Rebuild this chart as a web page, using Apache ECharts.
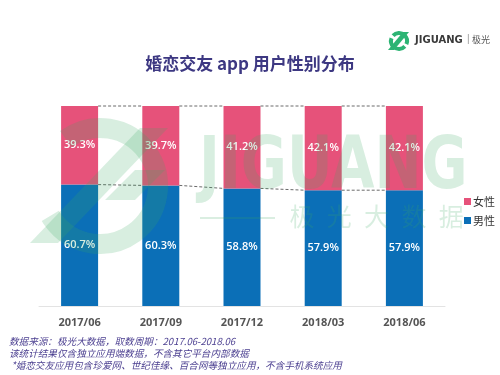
<!DOCTYPE html>
<html>
<head>
<meta charset="utf-8">
<script src="https://cdn.jsdelivr.net/npm/echarts@6/dist/echarts.min.js"></script>
<style>
  html, body { margin: 0; padding: 0; background: #fff; }
  #chart { width: 500px; height: 375px; }
</style>
</head>
<body>
<div id="chart"></div>
<script>
// data
const periods = ["2017/06", "2017/09", "2017/12", "2018/03", "2018/06"];
const female = [39.3, 39.7, 41.2, 42.1, 42.1];
const male = [60.7, 60.3, 58.8, 57.9, 57.9];
const notes = [
  "数据来源：极光大数据，取数周期：2017.06-2018.06",
  "该统计结果仅含独立应用端数据，不含其它平台内部数据",
  " *婚恋交友应用包含珍爱网、世纪佳缘、百合网等独立应用，不含手机系统应用",
];
const wmChars = ["极", "光", "大", "数", "据"];

const PINK = "#e6527a";
const BLUE = "#0b6fb7";
const BAR_W = 37;
const CJK = "'Noto Sans CJK SC', 'Open Sans', sans-serif";

/** connector segments between neighbouring bars: top edge and split line */
const links = [];
for (let i = 0; i < periods.length - 1; i++) {
  links.push([i, 100, 100]);
  links.push([i, male[i], male[i + 1]]);
}

const chart = echarts.init(document.getElementById("chart"), null, { renderer: "canvas" });

const wmGreen = "#3aa865";
const WM_Z = 100;

const option = {
  animation: false,
  backgroundColor: "#fff",
  title: {
    text: "婚恋交友 app 用户性别分布",
    left: "center",
    top: 50,
    textStyle: { fontFamily: CJK, fontSize: 17, fontWeight: "bold", color: "#3d3882" },
  },
  legend: {
    orient: "vertical",
    left: 459,
    top: 191,
    itemWidth: 7,
    itemHeight: 7,
    itemGap: 8,
    icon: "rect",
    data: ["女性", "男性"],
    textStyle: { fontFamily: CJK, fontSize: 11, color: "#333", padding: [0, 0, 0, -3] },
  },
  grid: { left: 39, right: 55, top: 106, bottom: 69 },
  xAxis: {
    type: "category",
    data: periods,
    axisLine: { lineStyle: { color: "#e3e3e3" } },
    axisTick: { show: false },
    axisLabel: {
      margin: 11,
      fontFamily: "'Open Sans', sans-serif",
      fontWeight: "bold",
      fontSize: 11,
      color: "#555",
    },
  },
  yAxis: { type: "value", min: 0, max: 100, show: false },
  series: [
    {
      name: "男性",
      type: "bar",
      stack: "g",
      barWidth: BAR_W,
      data: male,
      itemStyle: { color: BLUE },
      label: {
        show: true,
        position: "inside",
        color: "#fff",
        fontFamily: "'Open Sans', sans-serif",
        fontSize: 11,
        fontWeight: 600,
        formatter: (p) => p.value.toFixed(1) + "%",
      },
    },
    {
      name: "女性",
      type: "bar",
      stack: "g",
      barWidth: BAR_W,
      data: female,
      itemStyle: { color: PINK },
      label: {
        show: true,
        position: "inside",
        color: "#fff",
        fontFamily: "'Open Sans', sans-serif",
        fontSize: 11,
        fontWeight: 600,
        formatter: (p) => p.value.toFixed(1) + "%",
      },
    },
    {
      type: "custom",
      silent: true,
      z: 3,
      data: links,
      renderItem: (params, api) => {
        const i = api.value(0);
        const a = api.coord([i, api.value(1)]);
        const b = api.coord([i + 1, api.value(2)]);
        return {
          type: "line",
          shape: { x1: a[0] + BAR_W / 2, y1: a[1], x2: b[0] - BAR_W / 2, y2: b[1] },
          style: { stroke: "#6a6a6a", lineWidth: 1, lineDash: [3, 2] },
        };
      },
    },
  ],
  graphic: [
    /** watermark, drawn over the bars */
    {
      type: "arc",
      z: WM_Z,
      silent: true,
      shape: { cx: 100, cy: 186, r: 58, startAngle: -2.2, endAngle: 2.6 },
      style: { stroke: wmGreen, lineWidth: 20, fill: null, opacity: 0.2 },
    },
    {
      type: "polygon",
      z: WM_Z,
      silent: true,
      shape: { points: [[30, 243], [58, 243], [168, 128], [140, 128]] },
      style: { fill: wmGreen, opacity: 0.2 },
    },
    {
      type: "polygon",
      z: WM_Z,
      silent: true,
      shape: { points: [[105, 200], [135, 200], [165, 170], [135, 170]] },
      style: { fill: wmGreen, opacity: 0.2 },
    },
    {
      type: "text",
      z: WM_Z,
      silent: true,
      x: 199,
      y: 133,
      scaleX: 0.77,
      style: {
        text: "JIGUANG",
        fill: wmGreen,
        opacity: 0.2,
        font: "bold 73px 'DejaVu Sans', sans-serif",
      },
    },
    {
      type: "line",
      z: WM_Z,
      silent: true,
      shape: { x1: 200, y1: 218, x2: 275, y2: 218 },
      style: { stroke: wmGreen, lineWidth: 1.5, opacity: 0.25 },
    },
    ...wmChars.map((c, k) => ({
      type: "text",
      z: WM_Z,
      silent: true,
      x: 302 + k * 37.3,
      y: 216,
      style: {
        text: c,
        fill: wmGreen,
        opacity: 0.2,
        align: "center",
        verticalAlign: "middle",
        font: "25px 'Noto Sans CJK SC', sans-serif",
      },
    })),
    /** brand logo, top right */
    {
      type: "polygon",
      shape: { points: [[388, 50], [394, 50], [409, 32], [403, 32]] },
      style: { fill: "#2db474" },
    },
    {
      type: "arc",
      shape: { cx: 399, cy: 41, r: 8, startAngle: -2.4, endAngle: 0.4 },
      style: { stroke: "#2db474", lineWidth: 4, fill: null },
    },
    {
      type: "arc",
      shape: { cx: 399, cy: 41, r: 8, startAngle: 0.75, endAngle: 3.5 },
      style: { stroke: "#2db474", lineWidth: 4, fill: null },
    },
    {
      type: "text",
      x: 415,
      y: 35,
      style: { text: "JIGUANG", fill: "#3a3a3a", font: "bold 10px 'DejaVu Sans', sans-serif" },
    },
    {
      type: "text",
      x: 467,
      y: 34,
      style: { text: "|", fill: "#999", font: "10px sans-serif" },
    },
    {
      type: "text",
      x: 472,
      y: 35,
      style: { text: "极光", fill: "#555", font: "9px 'Noto Sans CJK SC', sans-serif" },
    },
    /** footnotes */
    ...notes.map((t, k) => ({
      type: "text",
      x: 9,
      y: 337 + k * 12,
      style: {
        text: t,
        fill: "#4b3f90",
        font: "italic 9.6px 'Noto Sans CJK SC', sans-serif",
      },
    })),
  ],
};

chart.setOption(option);
</script>
</body>
</html>
